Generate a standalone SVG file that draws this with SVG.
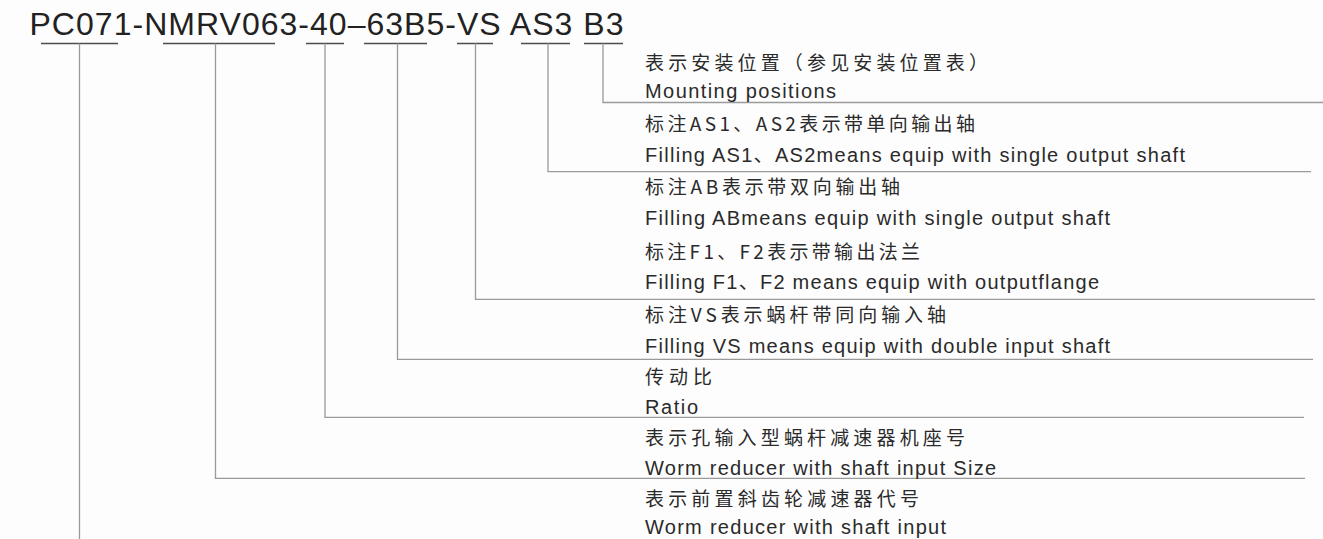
<svg xmlns="http://www.w3.org/2000/svg" width="1323" height="539" viewBox="0 0 1323 539">
  <style>
    .title { font-family: "Liberation Sans", Arial, sans-serif; font-size: 32px; fill: #222; }
    .en { font-family: "Liberation Sans", Arial, "Noto Sans CJK SC", sans-serif; font-size: 20px; fill: #2a2a2a; }
    .cn { font-family: "Noto Sans CJK SC", "Liberation Sans", sans-serif; font-size: 19px; fill: #2a2a2a; }
    .ul { stroke: #4d4d4d; stroke-width: 1.5; fill: none; }
    .conn { stroke: #9a9a9a; stroke-width: 1.3; fill: none; }
  </style>
  <rect x="0" y="0" width="1323" height="539" fill="#fdfdfd"/>

  <g id="title">
    <text class="title" x="29.5" y="35" textLength="594" lengthAdjust="spacing">PC071-NMRV063-40–63B5-VS AS3 B3</text>
    <path class="ul" d="M41,43.5H118 M163,43.5H275 M306,43.5H344 M364,43.5H427 M457,43.5H493 M521,43.5H570 M584,43.5H623"/>
  </g>

  <g id="connectors">
    <path class="conn" d="M603,43.5V102.5H1323"/>
    <path class="conn" d="M548,43.5V171.7H1311"/>
    <path class="conn" d="M475.5,43.5V299.3H1315"/>
    <path class="conn" d="M397.5,43.5V359.3H1313"/>
    <path class="conn" d="M325,43.5V417.3H1304"/>
    <path class="conn" d="M215.5,43.5V478.3H1305"/>
    <path class="conn" d="M79.5,43.5V539"/>
  </g>

  <g id="node-b3">
    <text class="cn" x="645" y="70" textLength="343" lengthAdjust="spacing">表示安装位置（参见安装位置表）</text>
    <text class="en" x="645" y="98.3" textLength="191" lengthAdjust="spacing">Mounting positions</text>
  </g>
  <g id="node-as3">
    <text class="cn" x="645" y="130.5" textLength="330" lengthAdjust="spacing">标注AS1、AS2表示带单向输出轴</text>
    <text class="en" x="645" y="161.7" textLength="540" lengthAdjust="spacing">Filling AS1、AS2means equip with single output shaft</text>
    <text class="cn" x="645" y="193.7" textLength="255" lengthAdjust="spacing">标注AB表示带双向输出轴</text>
    <text class="en" x="645" y="225" textLength="465" lengthAdjust="spacing">Filling ABmeans equip with single output shaft</text>
  </g>
  <g id="node-vs">
    <text class="cn" x="645" y="258.7" textLength="275" lengthAdjust="spacing">标注F1、F2表示带输出法兰</text>
    <text class="en" x="645" y="289.3" textLength="454" lengthAdjust="spacing">Filling F1、F2 means equip with outputflange</text>
  </g>
  <g id="node-63b5">
    <text class="cn" x="645" y="322" textLength="301" lengthAdjust="spacing">标注VS表示蜗杆带同向输入轴</text>
    <text class="en" x="645" y="352.7" textLength="465" lengthAdjust="spacing">Filling VS means equip with double input shaft</text>
  </g>
  <g id="node-40">
    <text class="cn" x="645" y="384" textLength="67" lengthAdjust="spacing">传动比</text>
    <text class="en" x="645" y="414" textLength="53" lengthAdjust="spacing">Ratio</text>
  </g>
  <g id="node-nmrv">
    <text class="cn" x="645" y="444.5" textLength="320" lengthAdjust="spacing">表示孔输入型蜗杆减速器机座号</text>
    <text class="en" x="645" y="475" textLength="351" lengthAdjust="spacing">Worm reducer with shaft input Size</text>
  </g>
  <g id="node-pc071">
    <text class="cn" x="645" y="505.5" textLength="274" lengthAdjust="spacing">表示前置斜齿轮减速器代号</text>
    <text class="en" x="645" y="534" textLength="301" lengthAdjust="spacing">Worm reducer with shaft input</text>
  </g>
</svg>
